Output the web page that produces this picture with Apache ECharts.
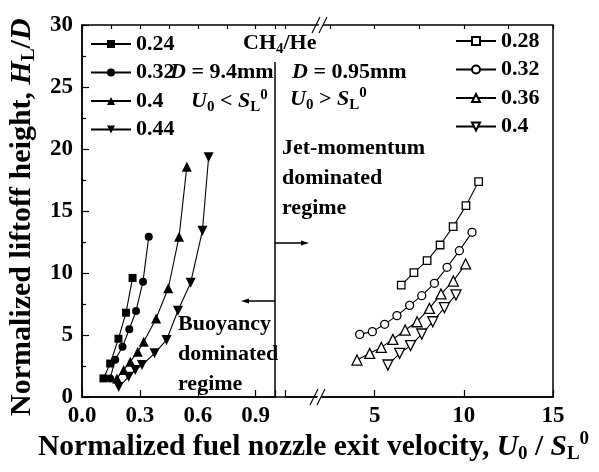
<!DOCTYPE html>
<html>
<head>
<meta charset="utf-8">
<script src="https://cdn.jsdelivr.net/npm/echarts@6/dist/echarts.min.js"></script>
<style>html,body{margin:0;padding:0;background:#fff;}#c{width:599px;height:472px;}</style>
</head>
<body>
<div id="c"></div>
<script>
// ---- data (left panel: D = 9.4 mm) ----
var x024 = [0.111, 0.146, 0.189, 0.228, 0.262];
var y024 = [1.5, 2.7, 4.7, 6.8, 9.6];
var x032a = [0.146, 0.172, 0.210, 0.245, 0.280, 0.316, 0.346];
var y032a = [1.5, 3.0, 4.06, 5.46, 6.94, 9.3, 12.93];
var x040a = [0.181, 0.216, 0.250, 0.289, 0.320, 0.384, 0.447, 0.503, 0.543];
var y040a = [1.5, 2.18, 2.85, 3.65, 4.46, 6.34, 8.77, 12.93, 18.57];
var x044 = [0.19, 0.242, 0.276, 0.311, 0.376, 0.438, 0.497, 0.563, 0.624, 0.656];
var y044 = [0.8, 1.64, 2.18, 2.58, 3.52, 4.6, 6.96, 9.22, 13.41, 19.33];
// ---- data (right panel: D = 0.95 mm) ----
var x028 = [6.49, 7.20, 7.94, 8.67, 9.40, 10.12, 10.83];
var y028 = [9.03, 10.03, 11.0, 12.26, 13.74, 15.43, 17.37];
var x032b = [4.16, 4.87, 5.56, 6.25, 6.96, 7.64, 8.35, 9.06, 9.75, 10.46];
var y032b = [5.05, 5.27, 5.86, 6.56, 7.39, 8.17, 9.17, 10.46, 11.80, 13.28];
var x036 = [4.01, 4.72, 5.37, 6.02, 6.71, 7.38, 8.07, 8.72, 9.41, 10.10];
var y036 = [2.98, 3.52, 4.0, 4.65, 5.40, 6.07, 7.15, 8.31, 9.35, 10.73];
var x040b = [5.74, 6.40, 7.01, 7.64, 8.26, 8.91, 9.56];
var y040b = [2.58, 3.52, 4.14, 5.08, 6.07, 7.2, 8.23];
var leftNames = ['0.24', '0.32', '0.4', '0.44'];
var rightNames = ['0.28', '0.32 ', '0.36', '0.4 '];
var leftTicks = [0.0, 0.3, 0.6, 0.9];
var rightTicks = [5, 10, 15];
var yTicks = [0, 5, 10, 15, 20, 25, 30];

function pairs(xs, ys) { return xs.map(function (x, i) { return [x, ys[i]]; }); }

var FONT = 'Liberation Serif';
var DOWN = 'path://M0,0 L10,0 L5,9 Z';

function mk(name, xs, ys, sym, filled, size, xi) {
  return {
    name: name, type: 'line', xAxisIndex: xi, yAxisIndex: xi,
    data: pairs(xs, ys), symbol: sym, symbolSize: size, showSymbol: true,
    lineStyle: { color: '#000', width: 1.1 },
    itemStyle: filled ? { color: '#000', borderColor: '#000', borderWidth: 0 }
                      : { color: '#fff', borderColor: '#000', borderWidth: 1.3 },
    emphasis: { disabled: true }, z: 3
  };
}

function mkRich(fs, sfs, pad) {
  var base = { fontFamily: FONT, fontWeight: 'bold', fontSize: fs, color: '#000', verticalAlign: 'middle' };
  function st(extra) { var o = {}; for (var k in base) o[k] = base[k]; for (var k2 in extra) o[k2] = extra[k2]; return o; }
  return {
    m: st({}),
    i: st({ fontStyle: 'italic' }),
    s: st({ fontSize: sfs, padding: [pad, 0, 0, 0] }),
    p: st({ fontSize: sfs, padding: [0, 0, pad, 0] })
  };
}
var rich = mkRich(22, 15, 12);
var bigRich = mkRich(29.5, 19, 15);
var yRich = mkRich(30, 19, 15);

function txt(x, y, t, r) {
  return { type: 'text', left: x, top: y, z: 10, style: { text: t, rich: r || rich, fontFamily: FONT, fontWeight: 'bold', fontSize: 22, fill: '#000' } };
}
function block(x, y, t) {
  return { type: 'text', left: x, top: y, z: 10, style: { text: t, fontFamily: FONT, fontWeight: 'bold', fontSize: 22, lineHeight: 30, fill: '#000' } };
}

var labelFont = { fontFamily: FONT, fontWeight: 'bold', fontSize: 23, color: '#000' };
function lab(margin, fmt) { var o = { margin: margin, formatter: fmt }; for (var k in labelFont) o[k] = labelFont[k]; return o; }

var chart = echarts.init(document.getElementById('c'), null, { renderer: 'canvas' });
var option = {
  animation: false,
  backgroundColor: '#fff',
  grid: [
    { left: 82, top: 25, width: 193, height: 372 },
    { left: 285.5, top: 25, width: 267.5, height: 372 }
  ],
  xAxis: [
    { type: 'value', gridIndex: 0, min: 0, max: 1.0, interval: 0.3,
      axisLine: { show: true, lineStyle: { color: '#000', width: 1.5 } },
      axisTick: { show: true, inside: true, length: 7, lineStyle: { color: '#000', width: 1.2 } },
      axisLabel: lab(8, function (v) { for (var i = 0; i < leftTicks.length; i++) if (Math.abs(v - leftTicks[i]) < 1e-6) return leftTicks[i].toFixed(1); return ''; }),
      splitLine: { show: false } },
    { type: 'value', gridIndex: 1, min: 0, max: 15, interval: 5,
      axisLine: { show: true, lineStyle: { color: '#000', width: 1.5 } },
      axisTick: { show: true, inside: true, length: 7, lineStyle: { color: '#000', width: 1.2 } },
      axisLabel: lab(8, function (v) { return rightTicks.indexOf(v) >= 0 ? String(v) : ''; }),
      splitLine: { show: false } },
    { type: 'value', gridIndex: 0, min: 0, max: 1.0, interval: 0.15,
      axisLine: { show: false }, axisLabel: { show: false }, splitLine: { show: false },
      axisTick: { show: true, inside: true, length: 4, lineStyle: { color: '#000', width: 1.2 } } },
    { type: 'value', gridIndex: 1, min: 0, max: 15, interval: 2.5,
      axisLine: { show: false }, axisLabel: { show: false }, splitLine: { show: false },
      axisTick: { show: true, inside: true, length: 4, lineStyle: { color: '#000', width: 1.2 } } }
  ],
  yAxis: [
    { type: 'value', gridIndex: 0, min: 0, max: 30, interval: 5,
      axisLine: { show: true, lineStyle: { color: '#000', width: 1.5 } },
      axisTick: { show: true, inside: true, length: 7, lineStyle: { color: '#000', width: 1.2 } },
      minorTick: { show: true, splitNumber: 2, length: 4, lineStyle: { color: '#000', width: 1.2 } },
      axisLabel: lab(9, function (v) { return yTicks.indexOf(v) >= 0 ? String(v) : ''; }),
      splitLine: { show: false } },
    { type: 'value', gridIndex: 1, min: 0, max: 30, interval: 5, show: false }
  ],
  legend: [
    { data: leftNames, orient: 'vertical', left: 90, top: 33, padding: 0,
      itemWidth: 40, itemHeight: 10, itemGap: 6.5, selectedMode: false,
      textStyle: { fontFamily: FONT, fontWeight: 'bold', fontSize: 22, color: '#000' } },
    { data: rightNames, orient: 'vertical', left: 455, top: 30, padding: 0,
      itemWidth: 40, itemHeight: 10, itemGap: 6.5, selectedMode: false,
      formatter: function (n) { return n.trim(); },
      textStyle: { fontFamily: FONT, fontWeight: 'bold', fontSize: 22, color: '#000' } }
  ],
  series: [
    mk(leftNames[0], x024, y024, 'rect', true, 8, 0),
    mk(leftNames[1], x032a, y032a, 'circle', true, 8, 0),
    mk(leftNames[2], x040a, y040a, 'triangle', true, 10, 0),
    mk(leftNames[3], x044, y044, DOWN, true, 10, 0),
    mk(rightNames[0], x028, y028, 'rect', false, 7.5, 1),
    mk(rightNames[1], x032b, y032b, 'circle', false, 8, 1),
    mk(rightNames[2], x036, y036, 'triangle', false, 10, 1),
    mk(rightNames[3], x040b, y040b, DOWN, false, 10, 1)
  ],
  graphic: [
    // frame
    { type: 'rect', z: 5, shape: { x: 82, y: 25, width: 471, height: 372 }, style: { fill: 'none', stroke: '#000', lineWidth: 1.5 } },
    // divider
    { type: 'line', z: 5, shape: { x1: 275, y1: 62, x2: 275, y2: 397 }, style: { stroke: '#000', lineWidth: 1.5 } },
    // break marks top
    { type: 'polygon', z: 6, shape: { points: [[316, 31], [323, 17], [327, 17], [320, 31]] }, style: { fill: '#fff' } },
    { type: 'line', z: 7, shape: { x1: 312, y1: 33, x2: 320, y2: 17 }, style: { stroke: '#000', lineWidth: 1.1 } },
    { type: 'line', z: 7, shape: { x1: 319, y1: 33, x2: 327, y2: 17 }, style: { stroke: '#000', lineWidth: 1.1 } },
    // break marks bottom
    { type: 'polygon', z: 6, shape: { points: [[314, 404], [321, 390], [325, 390], [318, 404]] }, style: { fill: '#fff' } },
    { type: 'line', z: 7, shape: { x1: 310, y1: 405, x2: 318, y2: 389 }, style: { stroke: '#000', lineWidth: 1.1 } },
    { type: 'line', z: 7, shape: { x1: 317, y1: 405, x2: 325, y2: 389 }, style: { stroke: '#000', lineWidth: 1.1 } },
    // arrows
    { type: 'line', z: 5, shape: { x1: 275, y1: 301, x2: 246, y2: 301 }, style: { stroke: '#000', lineWidth: 1.5 } },
    { type: 'polygon', z: 5, shape: { points: [[241, 301], [249, 298.5], [249, 303.5]] }, style: { fill: '#000' } },
    { type: 'line', z: 5, shape: { x1: 275, y1: 243, x2: 304, y2: 243 }, style: { stroke: '#000', lineWidth: 1.5 } },
    { type: 'polygon', z: 5, shape: { points: [[309, 243], [301, 240.5], [301, 245.5]] }, style: { fill: '#000' } },
    // annotations
    txt(243, 32, '{m|CH}{s|4}{m|/He}'),
    txt(170, 61, '{i|D}{m| = 9.4mm}'),
    txt(191, 88, '{i|U}{s|0}{m| < }{i|S}{s|L}{p|0}'),
    txt(292, 61, '{i|D}{m| = 0.95mm}'),
    txt(290, 86, '{i|U}{s|0}{m| > }{i|S}{s|L}{p|0}'),
    block(282, 133, 'Jet-momentum\ndominated\nregime'),
    block(178, 309, 'Buoyancy\ndominated\nregime'),
    // axis titles
    txt(38, 430, '{m|Normalized fuel nozzle exit velocity, }{i|U}{s|0}{m| / }{i|S}{s|L}{p|0}', bigRich),
    { type: 'text', z: 10, x: 5, y: 416, rotation: Math.PI / 2,
      style: { text: '{m|Normalized liftoff height, }{i|H}{s|L}{m|/}{i|D}', rich: yRich, fill: '#000', fontFamily: FONT, fontWeight: 'bold', fontSize: 30 } }
  ]
};
chart.setOption(option);
</script>
</body>
</html>
